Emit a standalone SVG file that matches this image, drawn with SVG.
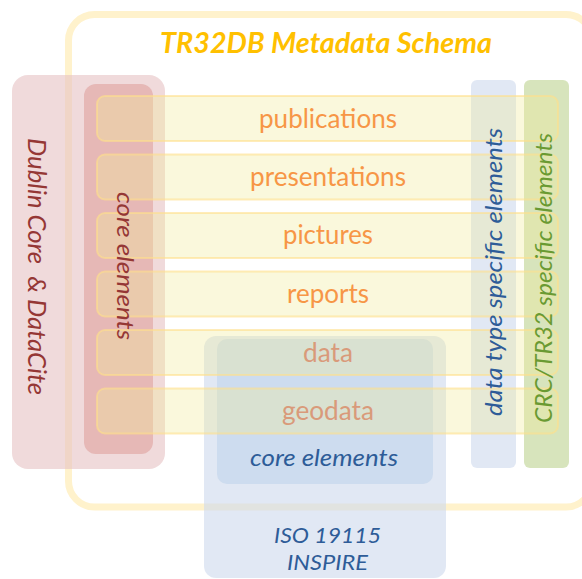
<svg xmlns="http://www.w3.org/2000/svg" width="582" height="579" viewBox="0 0 582 579">
<style>
.lbl{font-family:Lato,"Open Sans","Liberation Sans",sans-serif;}
.row{fill:#F1EB9B;fill-opacity:0.35;stroke:#FFE08A;stroke-width:2;stroke-opacity:0.6;}
.rowtxt{font-size:26px;fill:#F79646;text-anchor:middle;}
.it{font-style:italic;}
</style>
<rect width="582" height="579" fill="#FFFFFF"/>
<g id="tr32db-schema">
  <rect x="68.5" y="14.5" width="523.5" height="492.5" rx="26" fill="none" stroke="#FFF2CC" stroke-width="7"/>
  <text class="lbl it" x="326" y="53" font-size="28" font-weight="bold" fill="#FFC000" text-anchor="middle" textLength="332" lengthAdjust="spacingAndGlyphs">TR32DB Metadata Schema</text>
</g>
<g id="dublin-core">
  <rect x="12" y="75" width="153" height="394" rx="16" fill="#E6C1C3" fill-opacity="0.6"/>
</g>
<g id="dc-core-elements">
  <rect x="84" y="84" width="69" height="370" rx="12" fill="#DC9592" fill-opacity="0.5"/>
</g>
<g id="data-type-specific">
  <rect x="471" y="80" width="45" height="388" rx="6" fill="#CDD9ED" fill-opacity="0.6"/>
</g>
<g id="crc-specific">
  <rect x="524" y="80" width="45" height="388" rx="6" fill="#BCD28F" fill-opacity="0.6"/>
</g>
<g id="iso19115">
  <rect x="204" y="336" width="242" height="242" rx="12" fill="#CDD9ED" fill-opacity="0.6"/>
</g>
<g id="iso-core-elements">
  <rect x="217" y="339" width="216" height="145" rx="10" fill="#BACFE9" fill-opacity="0.5"/>
</g>
<g id="row-publications">
  <rect class="row" x="97" y="96" width="461" height="45" rx="8"/>
  <text class="lbl rowtxt" x="328" y="128" textLength="138" lengthAdjust="spacingAndGlyphs">publications</text>
</g>
<g id="row-presentations">
  <rect class="row" x="97" y="154.5" width="461" height="45" rx="8"/>
  <text class="lbl rowtxt" x="328" y="186" textLength="156" lengthAdjust="spacingAndGlyphs">presentations</text>
</g>
<g id="row-pictures">
  <rect class="row" x="97" y="213" width="461" height="45" rx="8"/>
  <text class="lbl rowtxt" x="328" y="244" textLength="90" lengthAdjust="spacingAndGlyphs">pictures</text>
</g>
<g id="row-reports">
  <rect class="row" x="97" y="271.5" width="461" height="45" rx="8"/>
  <text class="lbl rowtxt" x="328" y="302.5" textLength="82" lengthAdjust="spacingAndGlyphs">reports</text>
</g>
<g id="row-data">
  <rect class="row" x="97" y="330" width="461" height="45" rx="8"/>
  <text class="lbl rowtxt" x="328" y="362" style="fill:#D99A7A" textLength="50" lengthAdjust="spacingAndGlyphs">data</text>
</g>
<g id="row-geodata">
  <rect class="row" x="97" y="388.5" width="461" height="45" rx="8"/>
  <text class="lbl rowtxt" x="328" y="420" style="fill:#D99A7A" textLength="92" lengthAdjust="spacingAndGlyphs">geodata</text>
</g>
<g id="labels">
  <text class="lbl it" transform="translate(28,266.5) rotate(90)" font-size="26" fill="#953735" text-anchor="middle" textLength="257" lengthAdjust="spacingAndGlyphs" xml:space="preserve">Dublin Core  &amp; DataCite</text>
  <text class="lbl it" transform="translate(117,266) rotate(90)" font-size="24" fill="#953735" text-anchor="middle" textLength="148" lengthAdjust="spacingAndGlyphs">core elements</text>
  <text class="lbl it" transform="translate(502,272) rotate(-90)" font-size="24" fill="#2E5C98" text-anchor="middle" textLength="288" lengthAdjust="spacingAndGlyphs">data type specific elements</text>
  <text class="lbl it" transform="translate(552,278) rotate(-90)" font-size="24" fill="#6A9A32" text-anchor="middle" textLength="290" lengthAdjust="spacingAndGlyphs">CRC/TR32 specific elements</text>
  <text class="lbl it" x="324" y="466" font-size="24" fill="#2E5C98" text-anchor="middle" textLength="148" lengthAdjust="spacingAndGlyphs">core elements</text>
  <text class="lbl it" x="327.5" y="543" font-size="22" fill="#2E5C98" text-anchor="middle" textLength="107" lengthAdjust="spacingAndGlyphs">ISO 19115</text>
  <text class="lbl it" x="327.5" y="570" font-size="22" fill="#2E5C98" text-anchor="middle" textLength="81" lengthAdjust="spacingAndGlyphs">INSPIRE</text>
</g>
</svg>
